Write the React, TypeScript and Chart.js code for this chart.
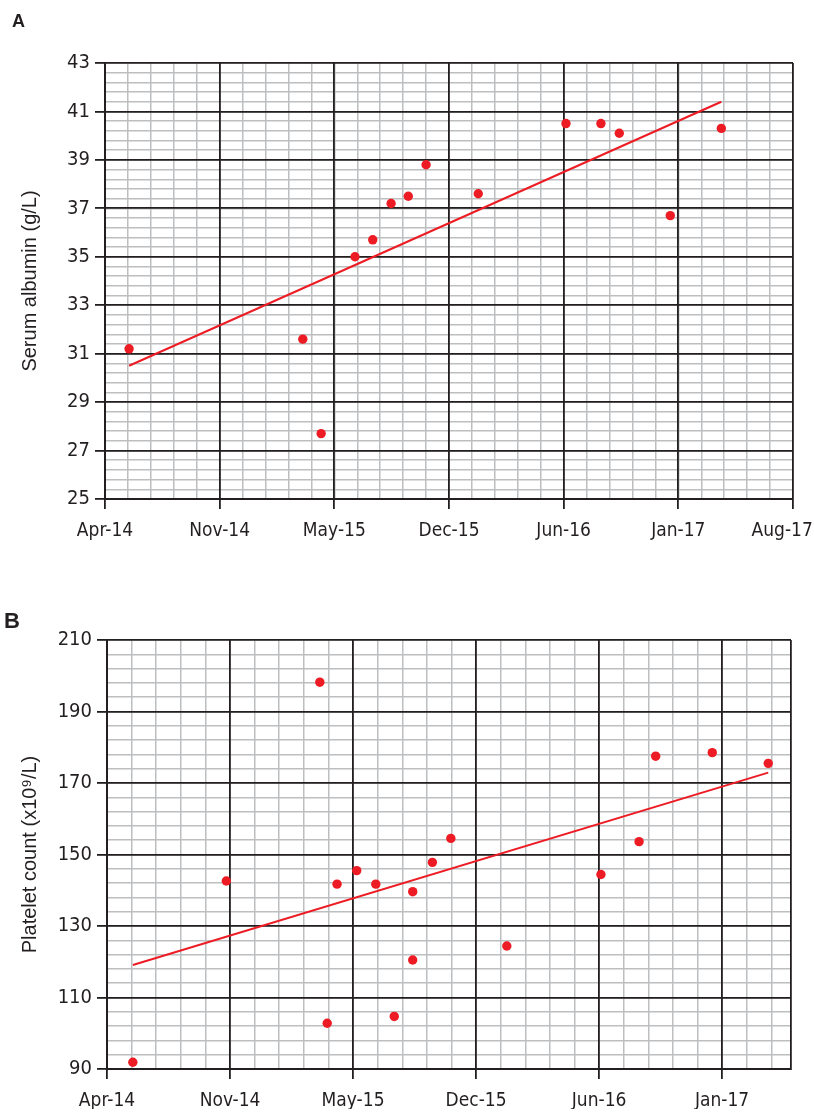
import React, { useEffect, useRef } from 'react';
import { Chart, registerables } from 'chart.js';

Chart.register(...registerables);

// ---------- shared date axis ----------
const axisStartDate = '2014-04-19';
const xMajorStepDays = 200;
const xMinorStepDays = 40;
const xTickLabels = ['Apr-14', 'Nov-14', 'May-15', 'Dec-15', 'Jun-16', 'Jan-17', 'Aug-17'];

// ---------- Panel A: serum albumin ----------
const albuminDates = [
  '2014-05-31', '2015-03-30', '2015-05-01', '2015-06-29', '2015-07-30', '2015-08-31', '2015-09-30',
  '2015-10-31', '2016-01-30', '2016-07-01', '2016-08-31', '2016-10-02', '2016-12-30', '2017-03-29',
];
const albuminValues = [31.2, 31.6, 27.7, 35.0, 35.7, 37.2, 37.5, 38.8, 37.6, 40.5, 40.5, 40.1, 36.7, 40.3];
const albuminTrendDates = ['2014-05-31', '2017-03-29'];
const albuminTrendValues = [30.5, 41.4];
const albuminYTicks = [25, 27, 29, 31, 33, 35, 37, 39, 41, 43];
const albuminYMinorStep = 0.4;
const albuminXSpanDays = 1200;
const albuminTitle = 'Serum albumin (g/L)';

// ---------- Panel B: platelet count ----------
const plateletDates = [
  '2014-05-31', '2014-10-30', '2015-03-31', '2015-04-12', '2015-04-28', '2015-05-30', '2015-06-30',
  '2015-07-30', '2015-08-29', '2015-08-29', '2015-09-30', '2015-10-30', '2016-01-29', '2016-06-30',
  '2016-08-31', '2016-09-27', '2016-12-28', '2017-03-29',
];
const plateletValues = [91.9, 142.6, 198.2, 102.8, 141.7, 145.5, 141.7, 104.7, 139.6, 120.5, 147.8, 154.5, 124.4, 144.4, 153.6, 177.5, 178.5, 175.5];
const plateletTrendDates = ['2014-05-31', '2017-03-29'];
const plateletTrendValues = [119.1, 172.9];
const plateletYTicks = [90, 110, 130, 150, 170, 190, 210];
const plateletYMinorStep = 4;
const plateletXSpanDays = 1112;
const plateletTitle = 'Platelet count (x10\u2079/L)';

// ---------- styles ----------
const DARK = '#231f20';
const MINOR = '#bcbec0';
const RED = '#ed1c24';
const X_TICK_FONT = { family: "'DejaVu Sans Condensed', 'Liberation Sans', sans-serif", size: 19 };
const Y_TICK_FONT = { family: "'DejaVu Sans Condensed', 'Liberation Sans', sans-serif", size: 20 };
const TITLE_FONT = { family: "'Liberation Sans', Arial, sans-serif", size: 20 };

const toDay = (iso: string) => Math.round(Date.parse(iso + 'T00:00:00Z') / 86400000);

function stepRange(min: number, max: number, step: number): number[] {
  const out: number[] = [];
  const n = Math.floor((max - min) / step + 1e-9);
  for (let i = 0; i <= n; i++) out.push(+(min + i * step).toFixed(6));
  return out;
}

type PanelSpec = {
  dates: string[];
  values: number[];
  trendDates: string[];
  trendValues: number[];
  yTicks: number[];
  yMinorStep: number;
  xSpan: number;
  title: string;
  yAxisWidth: number;
  xAxisHeight: number;
  padding: { top: number; right: number; bottom: number; left: number };
  shiftLastLabel: boolean;
};

function buildConfig(p: PanelSpec): any {
  const x0 = toDay(axisStartDate);
  const xMax = x0 + p.xSpan;
  const yMin = p.yTicks[0];
  const yMax = p.yTicks[p.yTicks.length - 1];
  const xMinor = stepRange(x0, xMax, xMinorStepDays);
  const xMajor = stepRange(x0, xMax, xMajorStepDays);
  if (xMajor[xMajor.length - 1] !== xMax) xMajor.push(xMax);
  const yMinor = stepRange(yMin, yMax, p.yMinorStep);
  const isLabelled = (v: number) => {
    const k = (v - x0) / xMajorStepDays;
    return Number.isInteger(k) && k < xTickLabels.length;
  };

  return {
    type: 'scatter',
    data: {
      datasets: [
        {
          data: p.dates.map((d, i) => ({ x: toDay(d), y: p.values[i] })),
          backgroundColor: RED,
          borderColor: RED,
          pointRadius: 4.7,
          pointBorderWidth: 0,
          xAxisID: 'x',
          yAxisID: 'y',
        },
        {
          data: p.trendDates.map((d, i) => ({ x: toDay(d), y: p.trendValues[i] })),
          showLine: true,
          borderColor: RED,
          borderWidth: 2,
          pointRadius: 0,
          xAxisID: 'x',
          yAxisID: 'y',
        },
      ],
    },
    options: {
      animation: false,
      responsive: true,
      maintainAspectRatio: false,
      events: [],
      layout: { padding: p.padding },
      plugins: { legend: { display: false }, tooltip: { enabled: false } },
      scales: {
        xm: {
          type: 'linear',
          axis: 'x',
          position: 'bottom',
          min: x0,
          max: xMax,
          afterBuildTicks: (s: any) => { s.ticks = xMinor.map((v) => ({ value: v })); },
          afterFit: (s: any) => { s.height = 0; s.paddingLeft = 0; s.paddingRight = 0; },
          grid: { color: MINOR, lineWidth: 1.5, drawTicks: false, z: -2 },
          border: { display: false },
          ticks: { display: false },
        },
        ym: {
          type: 'linear',
          axis: 'y',
          position: 'left',
          min: yMin,
          max: yMax,
          afterBuildTicks: (s: any) => { s.ticks = yMinor.map((v) => ({ value: v })); },
          afterFit: (s: any) => { s.width = 0; s.paddingTop = 0; s.paddingBottom = 0; },
          grid: { color: MINOR, lineWidth: 1.5, drawTicks: false, z: -2 },
          border: { display: false },
          ticks: { display: false },
        },
        x: {
          type: 'linear',
          position: 'bottom',
          min: x0,
          max: xMax,
          afterBuildTicks: (s: any) => { s.ticks = xMajor.map((v) => ({ value: v })); },
          afterFit: (s: any) => { s.height = p.xAxisHeight; s.paddingLeft = 0; s.paddingRight = 0; },
          grid: {
            color: DARK,
            lineWidth: 1.8,
            tickLength: 10,
            tickWidth: 1.8,
            tickColor: (ctx: any) => (ctx.tick && isLabelled(ctx.tick.value) ? DARK : 'rgba(0,0,0,0)'),
            z: -1,
          },
          border: { color: DARK, width: 2 },
          ticks: {
            autoSkip: false,
            maxRotation: 0,
            minRotation: 0,
            padding: 11,
            color: DARK,
            font: X_TICK_FONT,
            callback: (v: number) => {
              if (!isLabelled(v)) return '';
              const k = (v - x0) / xMajorStepDays;
              let s = xTickLabels[k];
              if (p.shiftLastLabel && v === xMax) s += '\u00a0\u00a0\u00a0\u00a0';
              return s;
            },
          },
        },
        y: {
          type: 'linear',
          position: 'left',
          min: yMin,
          max: yMax,
          afterBuildTicks: (s: any) => { s.ticks = p.yTicks.map((v) => ({ value: v })); },
          afterFit: (s: any) => { s.width = p.yAxisWidth; },
          grid: { color: DARK, lineWidth: 1.8, tickLength: 10, tickWidth: 1.8, tickColor: DARK, z: -1 },
          border: { color: DARK, width: 2 },
          ticks: { autoSkip: false, padding: 5, color: DARK, font: Y_TICK_FONT, callback: (v: number) => String(v) },
          title: { display: true, text: p.title, color: DARK, font: TITLE_FONT, padding: { top: 18, bottom: 0 } },
        },
      },
    },
  };
}

const specA: PanelSpec = {
  dates: albuminDates,
  values: albuminValues,
  trendDates: albuminTrendDates,
  trendValues: albuminTrendValues,
  yTicks: albuminYTicks,
  yMinorStep: albuminYMinorStep,
  xSpan: albuminXSpanDays,
  title: albuminTitle,
  yAxisWidth: 105,
  xAxisHeight: 50,
  padding: { top: 63, right: 21, bottom: 8, left: 0 },
  shiftLastLabel: true,
};

const specB: PanelSpec = {
  dates: plateletDates,
  values: plateletValues,
  trendDates: plateletTrendDates,
  trendValues: plateletTrendValues,
  yTicks: plateletYTicks,
  yMinorStep: plateletYMinorStep,
  xSpan: plateletXSpanDays,
  title: plateletTitle,
  yAxisWidth: 107,
  xAxisHeight: 40,
  padding: { top: 83, right: 23, bottom: 5, left: 0 },
  shiftLastLabel: false,
};

function Panel({ spec, top }: { spec: PanelSpec; top: number }) {
  const ref = useRef<HTMLCanvasElement | null>(null);
  useEffect(() => {
    if (!ref.current) return;
    const chart = new Chart(ref.current, buildConfig(spec));
    return () => chart.destroy();
  }, [spec]);
  return (
    <div style={{ position: 'absolute', left: 0, top, width: 814, height: 557 }}>
      <canvas ref={ref} />
    </div>
  );
}

export default function App() {
  const labelBase: React.CSSProperties = {
    position: 'absolute',
    fontFamily: "'Liberation Sans', Arial, sans-serif",
    fontWeight: 'bold',
    color: DARK,
    zIndex: 2,
  };
  return (
    <div style={{ position: 'absolute', left: 0, top: 0, width: 814, height: 1114, background: '#ffffff', overflow: 'hidden' }}>
      <Panel spec={specA} top={0} />
      <Panel spec={specB} top={557} />
      <div style={{ ...labelBase, left: 12, top: 12, fontSize: 18, lineHeight: '18px' }}>A</div>
      <div style={{ ...labelBase, left: 4, top: 610, fontSize: 22, lineHeight: '22px' }}>B</div>
    </div>
  );
}
